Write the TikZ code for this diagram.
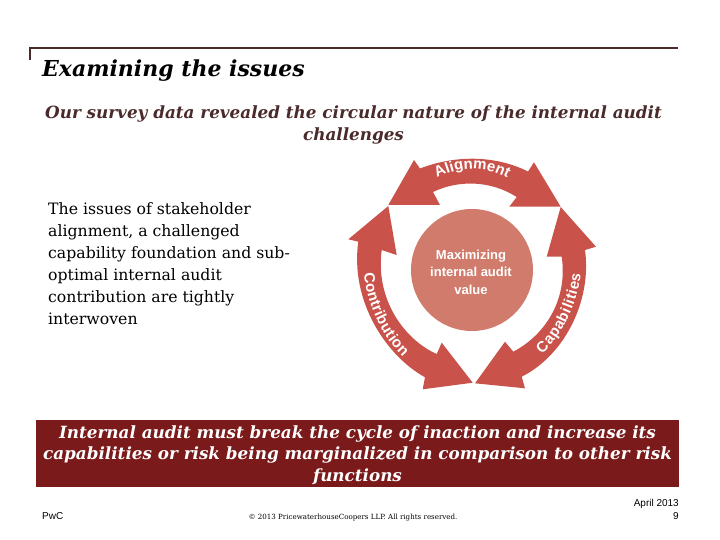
\documentclass[tikz,border=0pt]{standalone}
\usepackage{fontspec}
\setmainfont{DejaVu Serif}
\setsansfont{Liberation Sans}
\usetikzlibrary{decorations.text}
\definecolor{rulebrown}{HTML}{4A2A2A}
\definecolor{arrowred}{HTML}{C9524A}
\definecolor{hubred}{HTML}{D17B6C}
\definecolor{boxred}{HTML}{7A1A1A}
\newcommand{\ringfont}{\sffamily\bfseries\fontsize{15}{15}\selectfont\color{white}}
\tikzset{
  ringarrow/.style={fill=arrowred, draw=none},
  ringlabel/.style={decorate, decoration={text along path, text align={fit to path}, text={|\ringfont|#1}}},
  foot/.style={font=\sffamily\fontsize{10}{13}\selectfont, inner sep=0pt}
}
\begin{document}
\begin{tikzpicture}[x=1pt,y=-1pt]
  \useasboundingbox (0,0) rectangle (720,540);

  % rule and headings
  \draw[rulebrown, line width=1.6pt] (30,60) -- (30,48) -- (678,48);
  \node[anchor=west, inner sep=0pt, font=\bfseries\itshape\fontsize{22}{26}\selectfont] (title) at (42,71) {Examining the issues};
  \node[align=center, inner sep=0pt, text=rulebrown, font=\bfseries\itshape\fontsize{16.8}{21.5}\selectfont] (lead) at (353.5,125) {Our survey data revealed the circular nature of the internal audit\\challenges};

  % left text
  \node[anchor=north west, align=left, inner sep=0pt, font=\fontsize{15.7}{22}\selectfont] (issues) at (48,202) {The issues of stakeholder\\alignment, a challenged\\capability foundation and sub-\\optimal internal audit\\contribution are tightly\\interwoven};

  % ring arrows
  \fill[ringarrow] (388.3,205) -- (414,160) -- (420,168.5) .. controls (455,155) and (495,155) .. (528,171.5)
    -- (534,162.3) -- (560.7,206.7) -- (509.3,206.7) -- (516.7,197) .. controls (490,180) and (458,180) .. (433,192)
    -- (440,205) -- cycle;
  \fill[ringarrow] (560.7,207) -- (596,246.7) -- (585,250) .. controls (592,300) and (565,355) .. (521.7,376.7)
    -- (525,388.3) -- (475,383.3) -- (505,341.7) -- (513.3,351.7) .. controls (545,335) and (568,300) .. (561.7,256.7)
    -- (546.7,256.7) -- cycle;
  \fill[ringarrow] (388.3,206) -- (348.3,239.3) -- (358.3,241.7) .. controls (350,300) and (385,355) .. (425,377.3)
    -- (422.7,389.3) -- (472.7,382.7) -- (441.7,342.7) -- (436.7,354) .. controls (405,340) and (375,300) .. (381.7,250)
    -- (396.7,255) -- cycle;

  % ring labels
  \path[ringlabel=Alignment] (437,178) .. controls (458,166) and (486,166) .. (507,178);
  \path[ringlabel=Contribution] (364,273) .. controls (367,305) and (382,337) .. (403,357);
  \path[ringlabel=Capabilities] (542,354) .. controls (562,336) and (577,305) .. (581,274);

  % hub
  \fill[hubred] (472,270) circle (61);
  \node[align=center, inner sep=0pt, text=white, font=\sffamily\bfseries\fontsize{13}{17.5}\selectfont] (hub) at (471,272) {Maximizing\\internal audit\\value};

  % bottom box
  \node[fill=boxred, minimum width=643, minimum height=67, inner sep=0pt] (verdictbox) at (357.5,453) {};
  \node[text=white, align=center, inner sep=0pt, font=\bfseries\itshape\fontsize{16.8}{21.5}\selectfont] (verdict) at (357.5,455) {Internal audit must break the cycle of inaction and increase its\\capabilities or risk being marginalized in comparison to other risk\\functions};

  % footer
  \node[foot, anchor=west] (pwc) at (42,516) {PwC};
  \node[inner sep=0pt, font=\fontsize{7.1}{9}\selectfont] (copyright) at (353,518) {© 2013 PricewaterhouseCoopers LLP. All rights reserved.};
  \node[foot, anchor=north east, align=right] (date) at (679,499) {April 2013\\9};
\end{tikzpicture}
\end{document}
